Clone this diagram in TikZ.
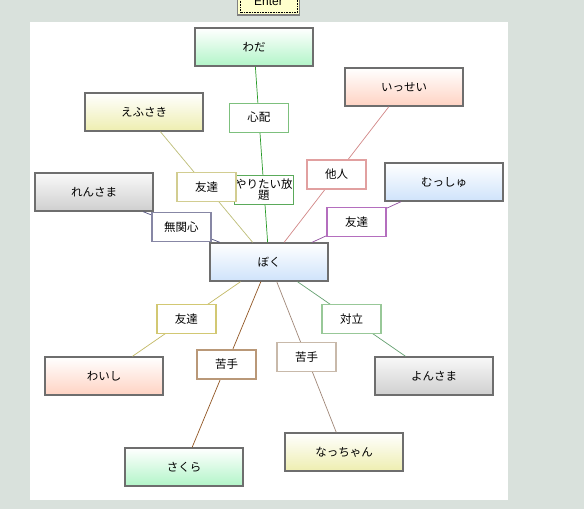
\documentclass[tikz,border=0pt]{standalone}
\usepackage{fontspec}
\newfontfamily\jpfont{Noto Sans CJK JP}
\newfontfamily\uifont{Liberation Sans}

\definecolor{pagebg}{HTML}{D9E1DC}
\definecolor{boxgray}{HTML}{6E6E6E}
\definecolor{fgreen}{HTML}{B2F5C8}
\definecolor{fpeach}{HTML}{FFD3C3}
\definecolor{fyellow}{HTML}{EEEEB0}
\definecolor{fgray}{HTML}{CFCFCF}
\definecolor{fblue}{HTML}{CFE3FB}
\definecolor{btnyellow}{HTML}{FFFFCC}

\begin{document}
\begin{tikzpicture}[x=1pt,y=-1pt,
  % Node Styles
  person/.style={rectangle, draw=boxgray, line width=1.4pt, minimum width=118pt, minimum height=38pt, inner sep=0pt, top color=white, text=black, font=\jpfont\fontsize{11.5}{13}\selectfont},
  relbox/.style={rectangle, fill=white, line width=1.2pt, minimum width=59pt, minimum height=29pt, inner sep=1pt, align=center, text=black, font=\jpfont\fontsize{11.5}{11.5}\selectfont},
  btn/.style={rectangle, draw=gray, line width=1.2pt, fill=btnyellow, minimum width=62pt, minimum height=28pt, text=black, font=\uifont\fontsize{12}{14}\selectfont},
  % Line Styles
  relline/.style={line width=0.7pt},
]
\useasboundingbox (0,0) rectangle (584,509);
\fill[pagebg] (0,0) rectangle (584,509);
\fill[white] (30,22) rectangle (508,500);

% Enter button (cut by the top edge)
\node[btn] (enter) at (268.5,1) {Enter};
\draw[densely dotted, line width=0.6pt] ([shift={(3,3)}]enter.north west) rectangle ([shift={(-3,-3)}]enter.south east);

% People
\node[person, bottom color=fblue] (boku) at (269,262) {ぼく};
\node[person, bottom color=fgreen] (wada) at (254,47) {わだ};
\node[person, bottom color=fpeach] (issei) at (404,87) {いっせい};
\node[person, bottom color=fyellow] (efusaki) at (144,112) {えふさき};
\node[person, top color=gray!5, bottom color=fgray] (rensama) at (94,192) {れんさま};
\node[person, bottom color=fblue] (musshu) at (444,182) {むっしゅ};
\node[person, bottom color=fpeach] (waishi) at (104,376) {わいし};
\node[person, top color=gray!5, bottom color=fgray] (yonsama) at (434,376) {よんさま};
\node[person, bottom color=fgreen] (sakura) at (184,467) {さくら};
\node[person, bottom color=fyellow] (nacchan) at (344,452) {なっちゃん};

% Relations
\draw[relline, color={rgb,255:red,40;green,155;blue,40}] (wada) --
  node[relbox, pos=0.29, draw={rgb,255:red,125;green,192;blue,125}] {心配}
  node[relbox, pos=0.7, draw={rgb,255:red,90;green,170;blue,90}] {やりたい放\\題} (boku);
\draw[relline, color={rgb,255:red,210;green,135;blue,135}] (issei) -- node[relbox, draw={rgb,255:red,225;green,160;blue,160}] {他人} (boku);
\draw[relline, color={rgb,255:red,190;green,190;blue,120}] (efusaki) -- node[relbox, draw={rgb,255:red,210;green,205;blue,145}] {友達} (boku);
\draw[relline, color={rgb,255:red,145;green,80;blue,160}] (musshu) -- node[relbox, draw={rgb,255:red,180;green,110;blue,190}] {友達} (boku);
\draw[relline, color={rgb,255:red,80;green,80;blue,125}] (rensama) -- node[relbox, draw={rgb,255:red,135;green,135;blue,165}] {無関心} (boku);
\draw[relline, color={rgb,255:red,195;green,185;blue,100}] (boku) -- node[relbox, draw={rgb,255:red,210;green,200;blue,115}] {友達} (waishi);
\draw[relline, color={rgb,255:red,145;green,85;blue,35}] (boku) -- node[relbox, draw={rgb,255:red,185;green,152;blue,120}] {苦手} (sakura);
\draw[relline, color={rgb,255:red,160;green,135;blue,120}] (boku) -- node[relbox, draw={rgb,255:red,200;green,185;blue,170}] {苦手} (nacchan);
\draw[relline, color={rgb,255:red,100;green,160;blue,112}] (boku) -- node[relbox, draw={rgb,255:red,152;green,200;blue,152}] {対立} (yonsama);

\end{tikzpicture}
\end{document}
